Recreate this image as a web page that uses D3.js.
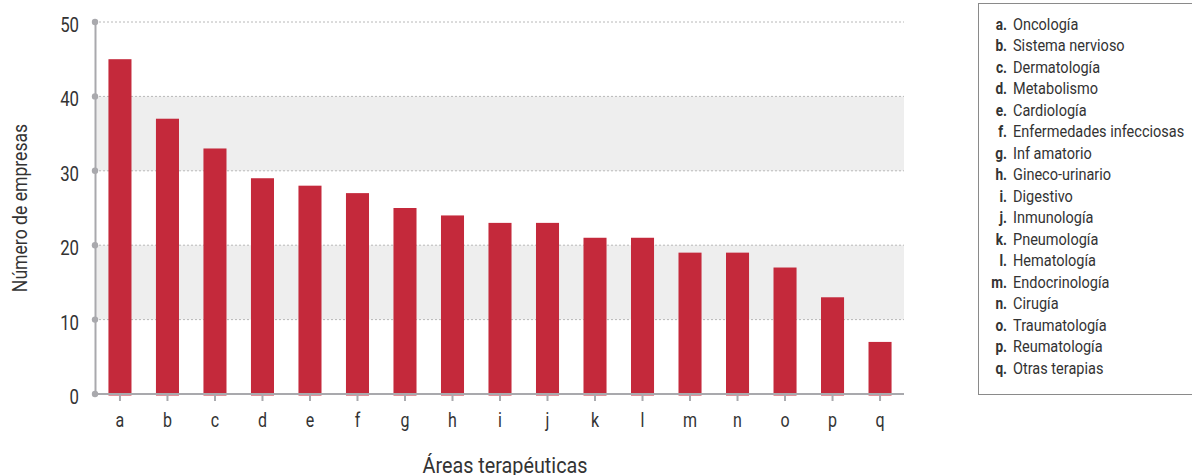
<!DOCTYPE html>
<html>
<head>
<meta charset="utf-8">
<script src="https://cdn.jsdelivr.net/npm/d3@7"></script>
<style>
  html, body { margin: 0; padding: 0; background: #fff; }
  svg { display: block; }
  text { font-family: "Roboto", "Liberation Sans", sans-serif; fill: #333; }
</style>
</head>
<body>
<svg id="chart" width="1192" height="475"></svg>
<script>
// Número de empresas por área terapéutica
const categories = ["a","b","c","d","e","f","g","h","i","j","k","l","m","n","o","p","q"];
const values = [45, 37, 33, 29, 28, 27, 25, 24, 23, 23, 21, 21, 19, 19, 17, 13, 7];
const areaNames = ["Oncología","Sistema nervioso","Dermatología","Metabolismo","Cardiología",
  "Enfermedades infecciosas","Inf amatorio","Gineco-urinario","Digestivo","Inmunología",
  "Pneumología","Hematología","Endocrinología","Cirugía","Traumatología","Reumatología","Otras terapias"];
const yTicks = [0, 10, 20, 30, 40, 50];
const shadedBands = [[10, 20], [30, 40]];

const svg = d3.select("#chart");
const axisColor = "#a9a9ad";
const barColor = "#c4293b";

// condensed look: narrow the glyphs horizontally
const narrow = (sx, x, y) => `translate(${x},${y}) scale(${sx},1)`;

const x = d3.scaleBand().domain(categories).range([95, 905]).paddingInner(0.515).paddingOuter(0.283);
const y = d3.scaleLinear().domain([0, 50]).range([394, 22]);
const plotRight = 904;

// shaded bands
svg.append("g").selectAll("rect").data(shadedBands).join("rect")
  .attr("x", 95).attr("width", plotRight - 95)
  .attr("y", d => y(d[1])).attr("height", d => y(d[0]) - y(d[1]))
  .attr("fill", "#eeeeee");

// dotted gridlines
svg.append("g").selectAll("line").data(yTicks.filter(t => t > 0)).join("line")
  .attr("x1", 95).attr("x2", plotRight)
  .attr("y1", d => y(d)).attr("y2", d => y(d))
  .attr("stroke", "#b8b8b8").attr("stroke-width", 1).attr("stroke-dasharray", "2,2");

// bars
svg.append("g").selectAll("rect").data(values).join("rect")
  .attr("x", (d, i) => x(categories[i]))
  .attr("width", x.bandwidth())
  .attr("y", d => y(d))
  .attr("height", d => y(0) - y(d) + 1.5)
  .attr("fill", barColor);

// x axis
const xAxis = svg.append("g").attr("transform", `translate(0,${y(0)})`)
  .call(d3.axisBottom(x).tickSize(7).tickPadding(0));
xAxis.select(".domain").remove();
xAxis.selectAll(".tick line").attr("stroke", axisColor).attr("stroke-width", 2);
xAxis.selectAll(".tick text")
  .attr("font-size", 20).attr("fill", "#333").attr("font-family", null)
  .attr("y", null).attr("dy", null)
  .attr("transform", narrow(0.8, 0, 33));
svg.append("line").attr("x1", 95).attr("x2", plotRight).attr("y1", y(0)).attr("y2", y(0))
  .attr("stroke", axisColor).attr("stroke-width", 2);

// y axis
const yAxis = svg.append("g").attr("transform", "translate(95,0)")
  .call(d3.axisLeft(y).tickValues(yTicks).tickSize(0).tickPadding(0));
yAxis.select(".domain").attr("stroke", axisColor).attr("stroke-width", 2);
yAxis.selectAll(".tick text")
  .attr("font-size", 21).attr("fill", "#333").attr("font-family", null)
  .attr("x", null).attr("dy", "0.45em")
  .attr("transform", narrow(0.8, -16, 0));
svg.append("g").selectAll("circle").data(yTicks).join("circle")
  .attr("cx", 95).attr("cy", d => y(d)).attr("r", 3.2).attr("fill", axisColor);

// axis titles
svg.append("text").attr("transform", "translate(27,208) rotate(-90) scale(0.88,1)")
  .attr("text-anchor", "middle").attr("font-size", 20).text("Número de empresas");
svg.append("text").attr("transform", narrow(0.9, 505, 473))
  .attr("text-anchor", "middle").attr("font-size", 22).text("Áreas terapéuticas");

// legend
svg.append("rect").attr("x", 978.5).attr("y", 3.5).attr("width", 230).attr("height", 391)
  .attr("fill", "none").attr("stroke", "#8a8a8a").attr("stroke-width", 1);
const legendRows = svg.append("g").selectAll("g").data(categories).join("g")
  .attr("transform", (d, i) => `translate(0,${24 + i * 21.5})`);
legendRows.append("text").attr("transform", narrow(0.85, 1007, 0))
  .attr("dy", "0.36em").attr("text-anchor", "end")
  .attr("font-size", 16).attr("font-weight", "bold").attr("fill", "#222").text(d => d + ".");
legendRows.append("text").attr("transform", narrow(0.88, 1013, 0))
  .attr("dy", "0.36em")
  .attr("font-size", 16.5).attr("fill", "#333").text((d, i) => areaNames[i]);
</script>
</body>
</html>
